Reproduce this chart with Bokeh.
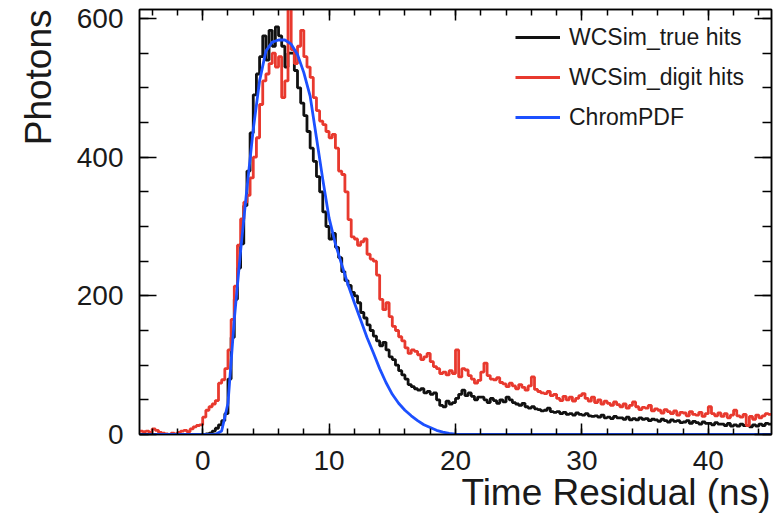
import numpy as np
from bokeh.plotting import figure
from bokeh.models import Range1d, LinearAxis, Legend, LegendItem, SingleIntervalTicker, Title
from bokeh.embed import file_html
from bokeh.resources import INLINE

# ---------------- data ----------------
bin_lo, bin_hi, n_bins = -5.0, 45.0, 200   # 0.25 ns bins

true_hits = [
    0, 0, 0, 0, 0, 0, 0, 0, 0, 0, 0, 0, 0, 0, 0, 0, 0, 0, 0, 0,   # -5 .. 0
    0, 1, 2, 5,          # 0-1
    9, 14, 20, 30,       # 1-2
    80, 140, 195, 240,   # 2-3
    275, 330, 380, 435,  # 3-4
    490, 520, 545, 575,  # 4-5
    540, 583, 560, 588,  # 5-6
    575, 560, 530, 550,  # 6-7
    550, 525, 500, 478,  # 7-8
    460, 437, 413, 394,  # 8-9
    372, 350, 321, 300,  # 9-10
    282, 290, 270, 255,  # 10-11
    235, 222, 215, 205,  # 11-12
    200, 190, 176, 168,  # 12-13
    158, 150, 142, 135,  # 13-14
    128, 133, 122, 112,  # 14-15
    108, 100, 92, 86,    # 15-16
    80, 72, 69, 66,      # 16-17
    64, 66, 60, 62,      # 17-18
    58, 60, 50, 42,      # 18-19
    40, 48, 44, 46,      # 19-20
    52, 58, 64, 56,      # 20-21
    60, 55, 50, 54,      # 21-22
    54, 50, 46, 52,      # 22-23
    49, 45, 50, 47,      # 23-24
    54, 50, 46, 44,      # 24-25
    42, 45, 40, 38,      # 25-26
    40, 37, 36, 34,      # 26-27
    35, 38, 33, 32,      # 27-28
    33, 30, 32, 29,      # 28-29
    30, 28, 31, 29,      # 29-30
    28, 30, 27, 26,      # 30-31
    27, 25, 28, 24,      # 31-32
    25, 23, 26, 24,      # 32-33
    24, 22, 25, 21,      # 33-34
    23, 21, 24, 22,      # 34-35
    23, 20, 22, 21,      # 35-36
    19, 22, 20, 18,      # 36-37
    21, 19, 20, 17,      # 37-38
    18, 20, 16, 19,      # 38-39
    17, 15, 18, 16,      # 39-40
    16, 14, 17, 15,      # 40-41
    15, 13, 16, 12,      # 41-42
    14, 12, 15, 13,      # 42-43
    13, 11, 14, 12,      # 43-44
    15, 13, 16, 15,      # 44-45
]

digit_hits = [
    5, 4, 5, 3,          # -5 - -4
    8, 6, 3, 2,          # -4 - -3
    1, 0, 2, 1,          # -3 - -2
    3, 5, 6, 4,          # -2 - -1
    8, 11, 13, 14,       # -1 - 0
    25, 35, 40, 44,      # 0-1
    49, 74, 79, 95,      # 1-2
    122, 166, 214, 273,  # 2-3
    311, 335, 345, 370,  # 3-4
    400, 428, 476, 510,  # 4-5
    520, 535, 550, 530,  # 5-6
    545, 486, 510, 650,  # 6-7
    555, 535, 560, 583,  # 7-8
    545, 530, 515, 486,  # 8-9
    467, 452, 447, 437,  # 9-10
    428, 433, 413, 380,  # 10-11
    375, 350, 310, 285,  # 11-12
    282, 273, 278, 282,  # 12-13
    260, 253, 250, 230,  # 13-14
    195, 180, 190, 170,  # 14-15
    156, 150, 141, 135,  # 15-16
    125, 117, 122, 120,  # 16-17
    115, 108, 112, 117,  # 17-18
    105, 98, 95, 88,     # 18-19
    90, 86, 92, 88,      # 19-20
    122, 83, 95, 93,     # 20-21
    85, 80, 74, 78,      # 21-22
    90, 103, 85, 80,     # 22-23
    79, 82, 75, 73,      # 23-24
    69, 74, 70, 66,      # 24-25
    72, 68, 64, 70,      # 25-26
    83, 65, 62, 60,      # 26-27
    59, 62, 56, 58,      # 27-28
    52, 49, 55, 50,      # 28-29
    54, 48, 52, 56,      # 29-30
    59, 52, 48, 54,      # 30-31
    46, 50, 44, 48,      # 31-32
    45, 42, 47, 43,      # 32-33
    40, 44, 38, 42,      # 33-34
    47, 40, 36, 39,      # 34-35
    38, 42, 34, 37,      # 35-36
    35, 31, 36, 33,      # 36-37
    30, 34, 28, 32,      # 37-38
    31, 27, 33, 29,      # 38-39
    28, 32, 26, 30,      # 39-40
    40, 30, 27, 31,      # 40-41
    26, 30, 24, 28,      # 41-42
    35, 27, 25, 29,      # 42-43
    13, 26, 22, 28,      # 43-44
    24, 27, 30, 29,      # 44-45
]

pdf_x = [-5.0, 1.0, 1.5, 2.0, 2.5, 3.0, 3.5, 4.0, 4.5, 5.0, 5.5, 6.0, 6.5, 7.0, 7.5,
         8.0, 8.5, 9.0, 9.5, 10.0, 10.5, 11.0, 11.5, 12.0, 12.5, 13.0, 13.5, 14.0,
         14.5, 15.0, 15.5, 16.0, 16.5, 17.0, 17.5, 18.0, 18.5, 19.0, 19.5, 20.0, 20.5, 45.0]
pdf_y = [0, 0, 5, 45, 166, 265, 355, 440, 510, 553, 566, 569, 569, 563, 548,
         522, 488, 428, 368, 312, 275, 245, 216, 190, 165, 140, 118, 95,
         75, 58, 45, 35, 27, 20, 14, 10, 6, 3.5, 1.5, 0.5, 0, 0]

series_names = ["WCSim_true hits", "WCSim_digit hits", "ChromPDF"]
x_title = "Time Residual (ns)"
y_title = "Photons"
x_range = (-5, 45)
y_range = (0, 613)

# ---------------- styling ----------------
FONT = "Liberation Sans"
TXT = "#1a1a1a"
BLACK = "#111111"
RED = "#e8392e"
BLUE = "#1c50ff"

edges = np.linspace(bin_lo, bin_hi, n_bins + 1)

p = figure(width=775, height=516, output_backend="svg", toolbar_location=None,
           x_range=Range1d(*x_range), y_range=Range1d(*y_range),
           min_border_left=139, min_border_right=4, min_border_top=9, min_border_bottom=82,
           x_axis_location=None, y_axis_location=None)
p.grid.visible = False
p.outline_line_color = "black"
p.outline_line_width = 1.5
p.background_fill_color = "white"
p.border_fill_color = "white"

r_true = p.step(edges, list(true_hits) + [true_hits[-1]], mode="after",
                line_color=BLACK, line_width=2.8)
r_digit = p.step(edges, list(digit_hits) + [digit_hits[-1]], mode="after",
                 line_color=RED, line_width=2.8)
r_pdf = p.line(pdf_x, pdf_y, line_color=BLUE, line_width=2.8)


def style_axis(ax, major_len, minor_len, show_labels):
    ax.major_tick_in = major_len
    ax.major_tick_out = 0
    ax.minor_tick_in = minor_len
    ax.minor_tick_out = 0
    ax.axis_line_width = 1.5
    ax.major_tick_line_width = 1.5
    ax.minor_tick_line_width = 1.5
    ax.axis_line_color = "black"
    ax.major_tick_line_color = "black"
    ax.minor_tick_line_color = "black"
    if show_labels:
        ax.major_label_text_font = FONT
        ax.major_label_text_font_size = "28px"
        ax.major_label_text_color = TXT
    else:
        ax.major_label_text_font_size = "0px"
        ax.major_label_standoff = 0


for loc in ["below", "above"]:
    ax = LinearAxis(ticker=SingleIntervalTicker(interval=10, num_minor_ticks=5))
    style_axis(ax, 11, 6, loc == "below")
    if loc == "below":
        ax.major_label_standoff = 16
    p.add_layout(ax, loc)

for loc in ["left", "right"]:
    ax = LinearAxis(ticker=SingleIntervalTicker(interval=200, num_minor_ticks=4))
    style_axis(ax, 17, 9, loc == "left")
    if loc == "left":
        ax.major_label_standoff = 16
    p.add_layout(ax, loc)

# axis titles (ROOT style, right-aligned)
p.add_layout(Title(text=x_title, align="right", text_font=FONT, text_font_size="37px",
                   text_font_style="normal", text_color=TXT, standoff=-6, offset=1), "below")
p.add_layout(Title(text=y_title, align="right", text_font=FONT,
                   text_font_size="37px", text_font_style="normal", text_color=TXT,
                   standoff=30, offset=0), "left")

legend = Legend(items=[LegendItem(label=series_names[0], renderers=[r_true]),
                       LegendItem(label=series_names[1], renderers=[r_digit]),
                       LegendItem(label=series_names[2], renderers=[r_pdf])],
                location=(376, 302), orientation="vertical",
                border_line_color=None, background_fill_alpha=0,
                padding=0, margin=0, spacing=10,
                glyph_width=45, glyph_height=30, label_height=30, label_standoff=9,
                label_text_font=FONT, label_text_font_size="23px", label_text_color=TXT)
p.add_layout(legend, "center")

open("out.html", "w").write(file_html(p, INLINE))
